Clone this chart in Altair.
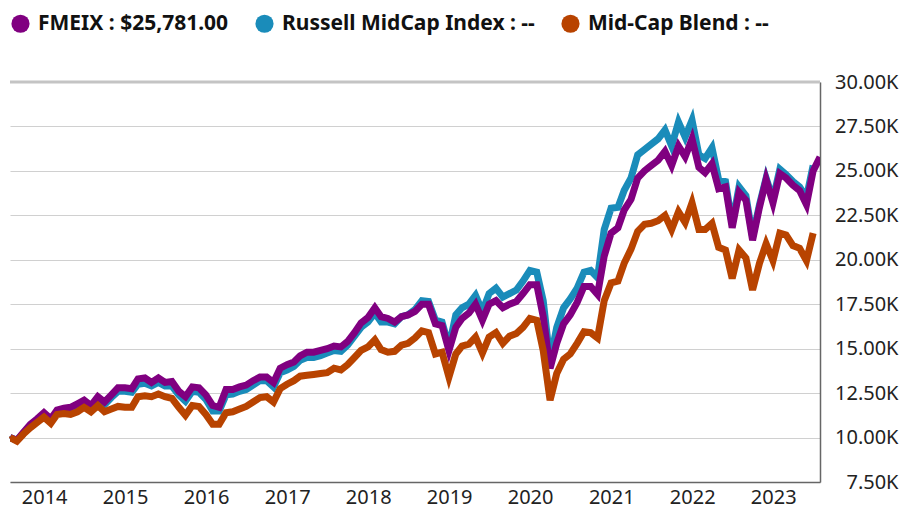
import altair as alt
import pandas as pd

# Series names (legend text)
names = ["FMEIX : $25,781.00", "Russell MidCap Index : --", "Mid-Cap Blend : --"]
colors = ["#800080", "#1a8cba", "#b84300"]

# Monthly growth of $10K (in thousands), Jul 2013 onward
fmeix = [10.0, 9.85, 10.3, 10.75, 11.05, 11.4, 11.05, 11.55, 11.65, 11.7, 11.9, 12.1,
         11.8, 12.3, 12.0, 12.4, 12.8, 12.8, 12.75, 13.3, 13.35, 13.1, 13.35, 13.1,
         13.15, 12.6, 12.3, 12.85, 12.8, 12.4, 11.8, 11.7, 12.7, 12.7, 12.85, 12.95,
         13.2, 13.4, 13.4, 13.1, 13.9, 14.1, 14.25, 14.6, 14.8, 14.8, 14.9, 15.0,
         15.15, 15.1, 15.4, 15.9, 16.45, 16.75, 17.3, 16.8, 16.7, 16.5, 16.8, 16.9,
         17.1, 17.5, 17.5, 16.4, 16.3, 14.9, 16.2, 16.7, 17.0, 17.5, 16.6, 17.5,
         17.7, 17.3, 17.5, 17.65, 18.1, 18.6, 18.6, 16.8, 13.9, 15.3, 16.4, 16.9,
         17.6, 18.5, 18.5, 18.05, 20.2, 21.5, 21.8, 22.8, 23.4, 24.6, 25.0, 25.3,
         25.6, 26.1, 25.3, 26.4, 25.8, 26.8, 25.2, 24.9, 25.4, 24.0, 24.1, 21.8,
         23.8, 23.35, 21.1, 22.95, 24.5, 23.2, 24.85, 24.6, 24.2, 23.9, 23.1, 25.0,
         25.78]
russell = [10.0, 9.85, 10.25, 10.65, 10.95, 11.3, 11.0, 11.45, 11.55, 11.6, 11.8, 12.0,
           11.7, 12.15, 11.85, 12.25, 12.6, 12.6, 12.55, 13.0, 13.05, 12.9, 13.1, 12.9,
           12.9, 12.4, 12.05, 12.6, 12.55, 12.15, 11.5, 11.5, 12.4, 12.45, 12.6, 12.7,
           12.95, 13.2, 13.2, 12.85, 13.65, 13.8, 14.0, 14.35, 14.5, 14.5, 14.6, 14.75,
           14.9, 14.85, 15.2, 15.7, 16.2, 16.5, 17.0, 16.5, 16.5, 16.4, 16.8, 16.9,
           17.2, 17.7, 17.65, 16.6, 16.5, 15.1, 16.9, 17.3, 17.5, 18.0, 17.1, 18.1,
           18.4, 17.9, 18.1, 18.3, 18.8, 19.4, 19.3, 17.7, 14.3, 16.2, 17.3, 17.8,
           18.4, 19.3, 19.4, 19.0, 21.7, 22.9, 22.95, 23.9, 24.6, 25.9, 26.2, 26.5,
           26.8, 27.3, 26.4, 27.75, 26.9, 27.85, 25.9, 25.7, 26.3, 24.5, 24.4, 22.0,
           24.1, 23.6, 21.3, 23.1, 24.6, 23.4, 25.1, 24.8, 24.4, 24.1, 23.5, 25.3]
midcap = [10.0, 9.8, 10.2, 10.55, 10.85, 11.15, 10.8, 11.3, 11.35, 11.3, 11.45, 11.7,
          11.45, 11.8, 11.45, 11.6, 11.75, 11.7, 11.7, 12.3, 12.35, 12.3, 12.45, 12.3,
          12.2, 11.7, 11.25, 11.8, 11.75, 11.3, 10.75, 10.75, 11.4, 11.45, 11.6, 11.75,
          12.0, 12.25, 12.3, 12.0, 12.75, 13.0, 13.2, 13.45, 13.5, 13.55, 13.6, 13.65,
          13.9, 13.8, 14.1, 14.5, 14.9, 15.1, 15.5, 14.95, 14.8, 14.85, 15.2, 15.3,
          15.6, 16.0, 15.9, 14.7, 14.8, 13.4, 14.7, 15.15, 15.25, 15.65, 14.75, 15.65,
          15.9, 15.3, 15.7, 15.85, 16.2, 16.7, 16.6, 14.9, 12.1, 13.6, 14.4, 14.7,
          15.3, 15.95, 15.9, 15.6, 17.7, 18.7, 18.8, 19.8, 20.6, 21.6, 22.0, 22.05,
          22.2, 22.5, 21.7, 22.7, 22.1, 23.2, 21.7, 21.7, 22.05, 20.7, 20.55, 18.95,
          20.55, 20.1, 18.3, 19.8, 20.9, 19.95, 21.5, 21.4, 20.8, 20.65, 19.95, 21.5]

year_ticks = [2014, 2015, 2016, 2017, 2018, 2019, 2020, 2021, 2022, 2023]
y_ticks = [7500, 10000, 12500, 15000, 17500, 20000, 22500, 25000, 27500, 30000]


def month_end(i):
    y = 2013 + (6 + i) // 12
    m = (6 + i) % 12 + 1
    return (pd.Timestamp(y, m, 1) + pd.offsets.MonthEnd(0)).strftime("%Y-%m-%d")


rows = []
# draw order: Russell first, FMEIX over it, Mid-Cap last
for name, vals in [(names[1], russell), (names[0], fmeix), (names[2], midcap)]:
    for i, v in enumerate(vals):
        rows.append({"date": month_end(i), "value": v * 1000, "series": name})
df = pd.DataFrame(rows)

# starting points of each series (used for the legend key layer)
starts = pd.DataFrame({
    "date": [month_end(0)] * 3,
    "value": [fmeix[0] * 1000, russell[0] * 1000, midcap[0] * 1000],
    "series": names,
})

x_scale = alt.Scale(domain=["2013-07-31", "2023-07-31"])
y_scale = alt.Scale(domain=[7500, 30000])
c_scale = alt.Scale(domain=names, range=colors)

font = "Noto Sans"

x_enc = alt.X("date:T", scale=x_scale,
              axis=alt.Axis(title=None, format="%Y", grid=False, ticks=False,
                            values=[f"{y}-01-01" for y in year_ticks],
                            labelFont=font, labelFontSize=20, labelColor="#222",
                            labelPadding=5, domainColor="#666", domainWidth=1.5))
y_enc = alt.Y("value:Q", scale=y_scale,
              axis=alt.Axis(title=None, orient="right", values=y_ticks,
                            labelExpr="format(datum.value / 1000, '.2f') + 'K'",
                            labelFont=font, labelFontSize=20, labelColor="#222",
                            labelAlign="right", labelPadding=78, ticks=False,
                            grid=True, gridColor="#d0d0d0", gridWidth=1.2,
                            domainColor="#666", domainWidth=1.5))

keys = alt.Chart(starts).mark_circle(size=4, opacity=1).encode(
    x=x_enc, y=y_enc,
    fill=alt.Fill("series:N", scale=c_scale,
                  legend=alt.Legend(orient="none", legendX=0, legendY=-69,
                                    direction="horizontal", title=None,
                                    symbolType="circle", symbolSize=330,
                                    symbolStrokeWidth=0, symbolOpacity=1,
                                    labelFontSize=21, labelFont=font,
                                    labelFontWeight="bold", labelColor="#111",
                                    columnPadding=25, labelOffset=7,
                                    labelLimit=500, padding=0)),
)

lines = alt.Chart(df).mark_line(strokeWidth=7, strokeJoin="miter", clip=True).encode(
    x=x_enc, y=y_enc,
    stroke=alt.Stroke("series:N", scale=c_scale, legend=None),
)

top_rule = alt.Chart(pd.DataFrame({"v": [30000]})).mark_rule(
    color="#c4c4c4", strokeWidth=3
).encode(y=alt.Y("v:Q", scale=y_scale))

chart = alt.layer(top_rule, keys, lines).properties(
    width=810, height=400,
    autosize=alt.AutoSizeParams(type="none"),
    padding={"left": 2, "top": 74, "right": 79, "bottom": 26},
).configure_view(stroke=None)

chart.save("out.html", embed_options={"renderer": "svg", "actions": False})
